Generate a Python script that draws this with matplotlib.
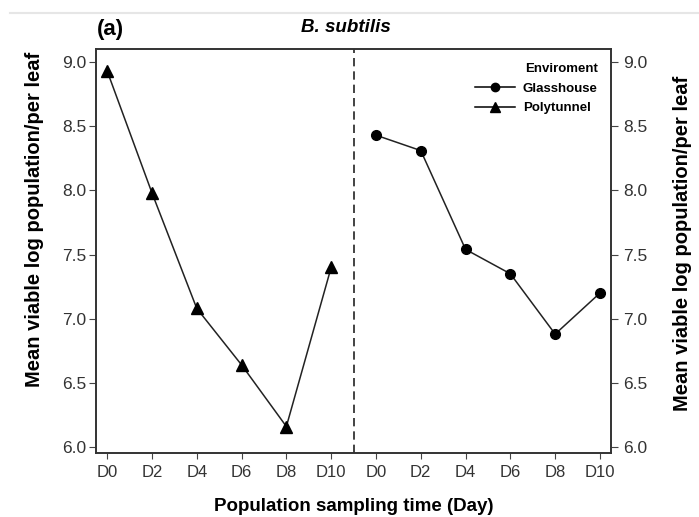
import matplotlib
matplotlib.use('Agg')
import matplotlib.pyplot as plt
from matplotlib.lines import Line2D

plt.rcParams['font.family'] = ['Liberation Sans', 'DejaVu Sans']

# sampling days, repeated for the two environments
days = ['D0', 'D2', 'D4', 'D6', 'D8', 'D10']
polytunnel = [8.93, 7.98, 7.08, 6.64, 6.16, 7.40]
glasshouse = [8.43, 8.31, 7.54, 7.35, 6.88, 7.20]
yticks = [6.0, 6.5, 7.0, 7.5, 8.0, 8.5, 9.0]

fig = plt.figure(figsize=(6.99, 5.17), dpi=100)
ax = fig.add_axes([0.1373, 0.1244, 0.7364, 0.7802])

xl = list(range(len(days)))
xr = [i + len(days) for i in xl]
ax.plot(xl, polytunnel, color='#222222', lw=1.1, marker='^', ms=8, mfc='black', mec='black')
ax.plot(xr, glasshouse, color='#222222', lw=1.1, marker='o', ms=7, mfc='black', mec='black')
ax.axvline(5.5, color='#222222', lw=1.2, ls=(0, (5, 3)))

ax.set_xlim(-0.25, 11.24)
ax.set_ylim(5.956, 9.099)
ax.set_xticks(xl + xr)
ax.set_xticklabels(days + days, fontsize=12)
ax.set_yticks(yticks)
ax.set_yticklabels(['%.1f' % v for v in yticks], fontsize=12.5)
ax.tick_params(axis='x', direction='out', length=4, pad=5, color='#444444', labelcolor='#333333')
ax.tick_params(axis='y', direction='out', length=5, pad=2, color='#444444', labelcolor='#333333')
for s in ax.spines.values():
    s.set_color('#333333')
    s.set_linewidth(1.2)

ax2 = ax.twinx()
ax2.set_ylim(ax.get_ylim())
ax2.set_yticks(yticks)
ax2.set_yticklabels(['%.1f' % v for v in yticks], fontsize=12.5)
ax2.tick_params(direction='out', length=5, pad=4, color='#444444', labelcolor='#333333')
for s in ax2.spines.values():
    s.set_color('#333333')
    s.set_linewidth(1.2)

ylab = 'Mean viable log population/per leaf'
ax.set_ylabel(ylab, fontsize=14.5, fontweight='bold')
ax.yaxis.label.set_va('center')
ax.yaxis.set_label_coords(-0.1185, 0.579)
ax2.set_ylabel(ylab, fontsize=14.5, fontweight='bold', rotation=90)
ax2.yaxis.label.set_va('center')
ax2.yaxis.set_label_coords(1.1385, 0.52)
ax.set_xlabel('Population sampling time (Day)', fontsize=13.5, fontweight='bold')
ax.xaxis.set_label_coords(0.5, -0.113)

handles = [Line2D([], [], color='black', lw=1.1, marker='o', ms=6),
           Line2D([], [], color='black', lw=1.1, marker='^', ms=7)]
leg = ax.legend(handles, ['Glasshouse', 'Polytunnel'], title='Enviroment',
                loc='upper right', bbox_to_anchor=(0.99, 0.985), frameon=False,
                prop={'weight': 'bold', 'size': 9.5}, handlelength=3.0,
                handletextpad=0.6, labelspacing=0.55, borderaxespad=0.2)
leg.get_title().set_fontweight('bold')
leg.get_title().set_fontsize(9.5)
leg._legend_box.align = 'right'

fig.text(0.139, 0.942, '(a)', fontsize=16, fontweight='bold', va='center', ha='left')
fig.text(0.495, 0.946, 'B. subtilis', fontsize=13.5, fontweight='bold', style='italic',
         va='center', ha='center')
fig.add_artist(Line2D([0.015, 1.0], [0.974, 0.974], color='#e6e6e6', lw=1.5))

fig.savefig('out.png', dpi=100)
